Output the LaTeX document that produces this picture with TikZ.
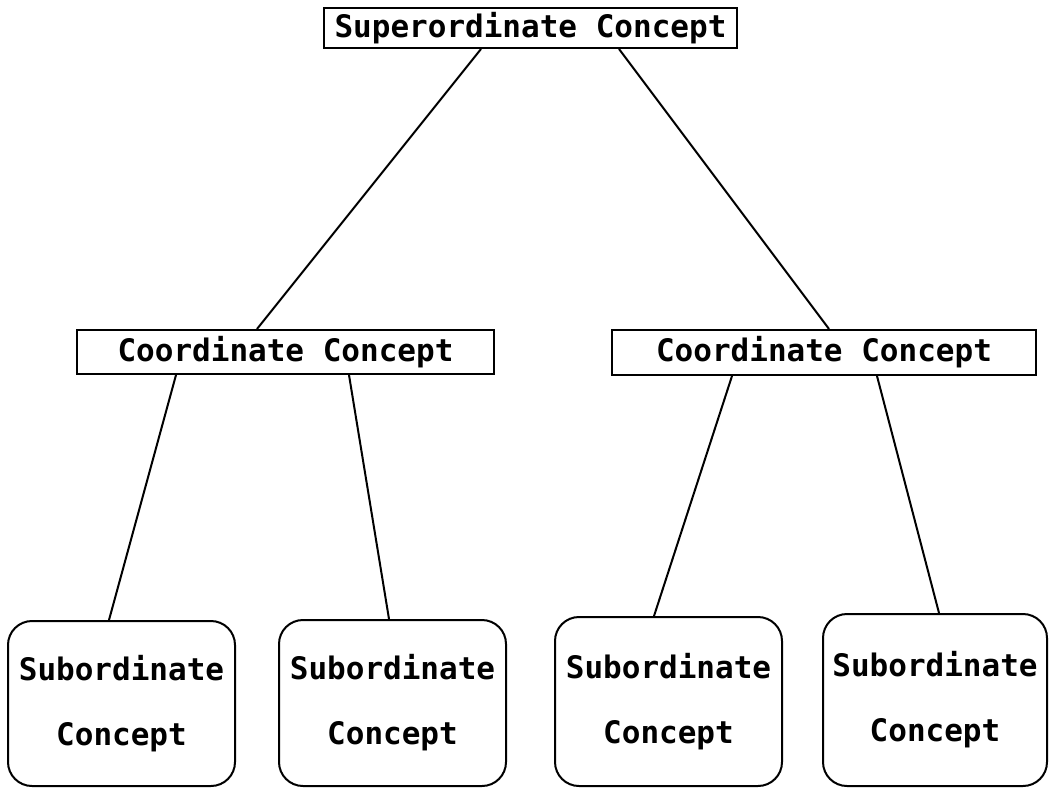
\documentclass[tikz,border=0pt]{standalone}
\usepackage{fontspec}
\newfontfamily\diagfont{DejaVu Sans Mono}
\begin{document}
\begin{tikzpicture}[x=1pt,y=-1pt,
  every node/.style={font=\diagfont\bfseries\fontsize{31}{65}\selectfont, inner sep=0pt},
  sqbox/.style={draw, line width=2pt, rectangle},
  rbox/.style={draw, line width=2pt, rectangle, rounded corners=24pt, align=center},
  link/.style={line width=2pt}]
\useasboundingbox (0,0) rectangle (1049,788);
\fill[white] (0,0) rectangle (1049,788);
\node[sqbox, minimum width=413, minimum height=40] (sup) at (530.5,28) {Superordinate Concept};
\node[sqbox, minimum width=417, minimum height=44] (c1) at (285.5,352) {Coordinate Concept};
\node[sqbox, minimum width=424, minimum height=45] (c2) at (824,352.5) {Coordinate Concept};
\node[rbox, minimum width=227, minimum height=165] (s1) at (121.5,703.5) {Subordinate\\Concept};
\node[rbox, minimum width=227, minimum height=166] (s2) at (392.5,703) {Subordinate\\Concept};
\node[rbox, minimum width=227, minimum height=169] (s3) at (668.5,701.5) {Subordinate\\Concept};
\node[rbox, minimum width=224, minimum height=172] (s4) at (935,700) {Subordinate\\Concept};
\draw[link] ([xshift=158pt]sup.south west) -- ([xshift=181pt]c1.north west);
\draw[link] ([xshift=296pt]sup.south west) -- ([xshift=218pt]c2.north west);
\draw[link] ([xshift=100pt]c1.south west) -- ([xshift=102pt]s1.north west);
\draw[link] ([xshift=273pt]c1.south west) -- ([xshift=111pt]s2.north west);
\draw[link] ([xshift=121pt]c2.south west) -- ([xshift=100pt]s3.north west);
\draw[link] ([xshift=266pt]c2.south west) -- ([xshift=117pt]s4.north west);
\end{tikzpicture}
\end{document}
